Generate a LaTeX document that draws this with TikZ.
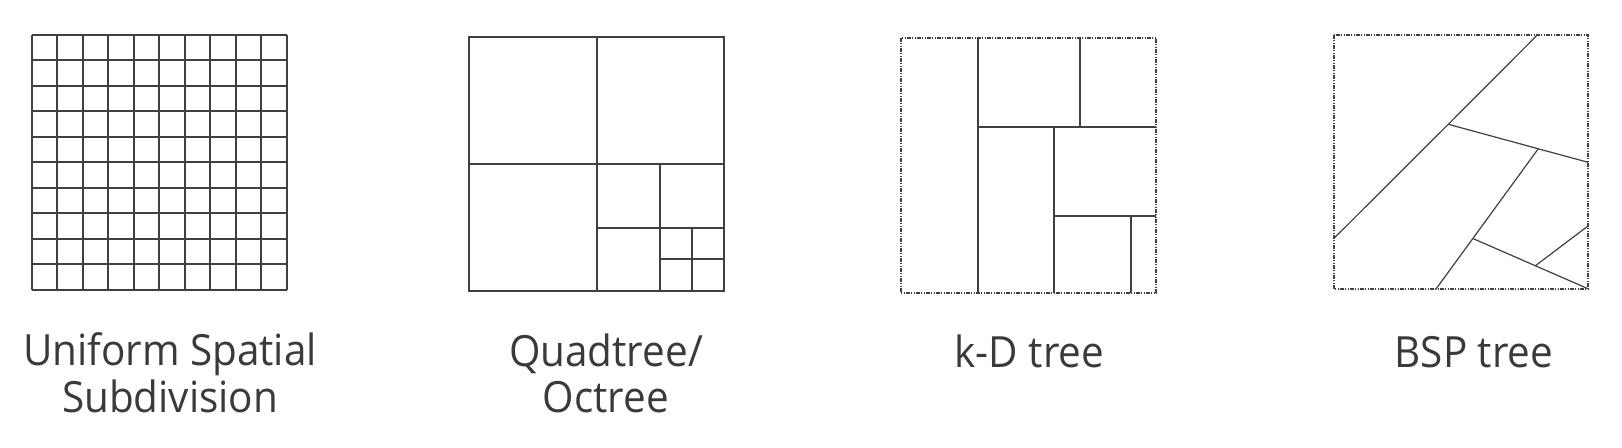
\documentclass[tikz,border=0pt]{standalone}
\usepackage{fontspec}
\setmainfont[FakeStretch=0.94]{Open Sans}
\definecolor{linegray}{HTML}{404040}
\definecolor{textgray}{HTML}{3A3A3A}
\tikzset{
	cellline/.style={linegray, line width=2pt},
	splitline/.style={linegray, line width=1.2pt},
	boundary/.style={linegray, line width=2pt, dash pattern=on 4pt off 1.2pt on 1.2pt off 1.2pt on 1.2pt off 1.2pt},
	caption/.style={textgray, anchor=base, align=center, font=\fontsize{43}{46.5}\selectfont, inner sep=0pt}
}
\begin{document}
\begin{tikzpicture}[x=1pt,y=-1pt]
	\useasboundingbox (0,0) rectangle (1622,447);
	% uniform grid
		\foreach \i in {0,...,10}{
			\pgfmathtruncatemacro\cellpos{25.5*\i}
			\draw[cellline] (32+\cellpos,35) -- ++(0,255);
			\draw[cellline] (32,35+\cellpos) -- ++(255,0);
		}
		\node[caption] (uniform) at (170,412) {Uniform Spatial\\Subdivision};
	% quadtree
		\draw[cellline] (469,37) rectangle (724,291);
		\draw[cellline] (597,37) -- (597,291);
		\draw[cellline] (469,164) -- (724,164);
		\draw[cellline] (660,164) -- (660,291);
		\draw[cellline] (597,228) -- (724,228);
		\draw[cellline] (692,228) -- (692,291);
		\draw[cellline] (660,259) -- (724,259);
		\node[caption] (quad) at (606,412.5) {Quadtree/\\Octree};
	% k-d tree
		\draw[boundary] (901,38) rectangle (1156,293);
		\draw[cellline] (978,38) -- (978,293);
		\draw[cellline] (978,127) -- (1156,127);
		\draw[cellline] (1080,38) -- (1080,127);
		\draw[cellline] (1054,127) -- (1054,293);
		\draw[cellline] (1054,216) -- (1156,216);
		\draw[cellline] (1131,216) -- (1131,293);
		\node[caption] (kd) at (1029.5,367.5) {k-D tree};
	% bsp tree
		\draw[boundary] (1334,35) rectangle (1588,289);
		\draw[splitline] (1334,238.3) -- (1448.3,124.3) -- (1537.3,35);
		\draw[splitline] (1448.3,124.3) -- (1588,162.3);
		\draw[splitline] (1538.3,148.7) -- (1436,289);
		\draw[splitline] (1473.3,238.7) -- (1588,288.7);
		\draw[splitline] (1535,266) -- (1588,226);
		\node[caption] (bsp) at (1474,367.5) {BSP tree};
\end{tikzpicture}
\end{document}
